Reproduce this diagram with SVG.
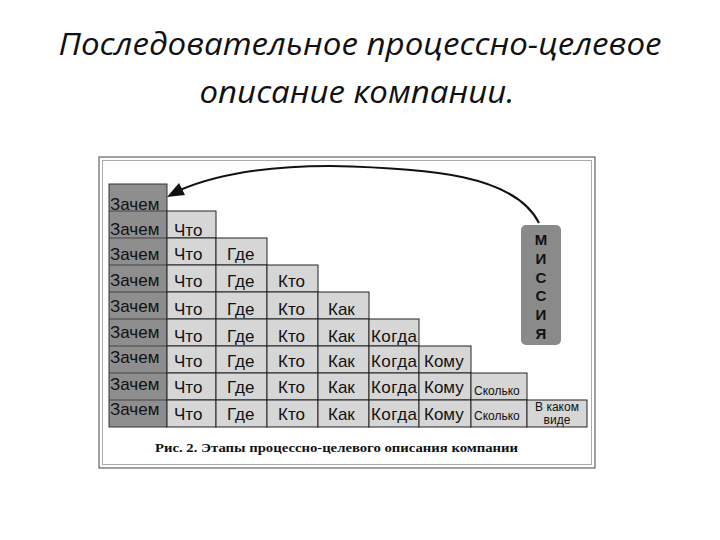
<svg xmlns="http://www.w3.org/2000/svg" width="720" height="540" viewBox="0 0 720 540">
<style>
.title{font-family:"Open Sans","Noto Sans",sans-serif;font-style:italic;font-size:31px;fill:#111}
.z{fill:#8e8e8e;stroke:#333;stroke-width:1}
.c{fill:#d6d6d6;stroke:#222;stroke-width:1}
.t{font-family:"Liberation Sans",Arial,sans-serif;font-size:17px;fill:#111}
.s{font-family:"Liberation Sans",Arial,sans-serif;font-size:12px;fill:#111}
.m{font-family:"Liberation Sans",Arial,sans-serif;font-size:15px;font-weight:bold;fill:#111;text-anchor:middle}
.cap{font-family:"Liberation Serif","Times New Roman",serif;font-size:12.5px;font-weight:bold;fill:#111}
</style>
<rect width="720" height="540" fill="#fff"/>
<text class="title" x="360" y="55" text-anchor="middle" textLength="603" lengthAdjust="spacingAndGlyphs">Последовательное процессно-целевое</text>
<text class="title" x="357" y="103" text-anchor="middle" textLength="315" lengthAdjust="spacingAndGlyphs">описание компании.</text>
<g id="frame">
<rect x="99" y="157" width="496" height="311" fill="none" stroke="#444" stroke-width="1"/>
<rect x="102.5" y="160.5" width="489" height="304" fill="none" stroke="#aaa" stroke-width="1"/>
</g>
<g id="zachem-column">
<rect class="z" x="109" y="184" width="58" height="243"/>
<path d="M109 211H167M109 238H167M109 265H167M109 292H167M109 319H167M109 346H167M109 373H167M109 400H167" stroke="#444" stroke-width="1"/>
<text class="t" x="110" y="210">Зачем</text>
<text class="t" x="110" y="235">Зачем</text>
<text class="t" x="110" y="260">Зачем</text>
<text class="t" x="110" y="286">Зачем</text>
<text class="t" x="110" y="312">Зачем</text>
<text class="t" x="110" y="338">Зачем</text>
<text class="t" x="110" y="363">Зачем</text>
<text class="t" x="110" y="390">Зачем</text>
<text class="t" x="110" y="415">Зачем</text>
</g>
<g id="chto-column">
<rect class="c" x="167" y="211" width="49" height="27"/>
<rect class="c" x="167" y="238" width="49" height="27"/>
<rect class="c" x="167" y="265" width="49" height="27"/>
<rect class="c" x="167" y="292" width="49" height="27"/>
<rect class="c" x="167" y="319" width="49" height="27"/>
<rect class="c" x="167" y="346" width="49" height="27"/>
<rect class="c" x="167" y="373" width="49" height="27"/>
<rect class="c" x="167" y="400" width="49" height="27"/>
<text class="t" x="174" y="236">Что</text>
<text class="t" x="174" y="260">Что</text>
<text class="t" x="174" y="287">Что</text>
<text class="t" x="174" y="315">Что</text>
<text class="t" x="174" y="342">Что</text>
<text class="t" x="174" y="367">Что</text>
<text class="t" x="174" y="393">Что</text>
<text class="t" x="174" y="420">Что</text>
</g>
<g id="gde-column">
<rect class="c" x="216" y="238" width="51" height="27"/>
<rect class="c" x="216" y="265" width="51" height="27"/>
<rect class="c" x="216" y="292" width="51" height="27"/>
<rect class="c" x="216" y="319" width="51" height="27"/>
<rect class="c" x="216" y="346" width="51" height="27"/>
<rect class="c" x="216" y="373" width="51" height="27"/>
<rect class="c" x="216" y="400" width="51" height="27"/>
<text class="t" x="227" y="260">Где</text>
<text class="t" x="227" y="287">Где</text>
<text class="t" x="227" y="315">Где</text>
<text class="t" x="227" y="342">Где</text>
<text class="t" x="227" y="367">Где</text>
<text class="t" x="227" y="393">Где</text>
<text class="t" x="227" y="420">Где</text>
</g>
<g id="kto-column">
<rect class="c" x="267" y="265" width="51" height="27"/>
<rect class="c" x="267" y="292" width="51" height="27"/>
<rect class="c" x="267" y="319" width="51" height="27"/>
<rect class="c" x="267" y="346" width="51" height="27"/>
<rect class="c" x="267" y="373" width="51" height="27"/>
<rect class="c" x="267" y="400" width="51" height="27"/>
<text class="t" x="278" y="287">Кто</text>
<text class="t" x="278" y="315">Кто</text>
<text class="t" x="278" y="342">Кто</text>
<text class="t" x="278" y="367">Кто</text>
<text class="t" x="278" y="393">Кто</text>
<text class="t" x="278" y="420">Кто</text>
</g>
<g id="kak-column">
<rect class="c" x="318" y="292" width="51" height="27"/>
<rect class="c" x="318" y="319" width="51" height="27"/>
<rect class="c" x="318" y="346" width="51" height="27"/>
<rect class="c" x="318" y="373" width="51" height="27"/>
<rect class="c" x="318" y="400" width="51" height="27"/>
<text class="t" x="328" y="315">Как</text>
<text class="t" x="328" y="342">Как</text>
<text class="t" x="328" y="367">Как</text>
<text class="t" x="328" y="393">Как</text>
<text class="t" x="328" y="420">Как</text>
</g>
<g id="kogda-column">
<rect class="c" x="369" y="319" width="50" height="27"/>
<rect class="c" x="369" y="346" width="50" height="27"/>
<rect class="c" x="369" y="373" width="50" height="27"/>
<rect class="c" x="369" y="400" width="50" height="27"/>
<text class="t" x="371" y="342" textLength="46">Когда</text>
<text class="t" x="371" y="367" textLength="46">Когда</text>
<text class="t" x="371" y="393" textLength="46">Когда</text>
<text class="t" x="371" y="420" textLength="46">Когда</text>
</g>
<g id="komu-column">
<rect class="c" x="419" y="346" width="52" height="27"/>
<rect class="c" x="419" y="373" width="52" height="27"/>
<rect class="c" x="419" y="400" width="52" height="27"/>
<text class="t" x="424" y="367">Кому</text>
<text class="t" x="424" y="393">Кому</text>
<text class="t" x="424" y="420">Кому</text>
</g>
<g id="skolko-column">
<rect class="c" x="471" y="373" width="56" height="27"/>
<rect class="c" x="471" y="400" width="56" height="27"/>
<text class="s" x="474" y="395">Сколько</text>
<text class="s" x="474" y="420">Сколько</text>
</g>
<g id="v-kakom-vide">
<rect class="c" x="527" y="400" width="60" height="27"/>
<text class="s" x="557" y="411" text-anchor="middle" font-size="11">В каком</text>
<text class="s" x="557" y="424" text-anchor="middle" font-size="11">виде</text>
</g>
<g id="missiya">
<rect x="521" y="225" width="40" height="120" rx="5" fill="#8a8a8a"/>
<text class="m" x="541" y="245">М</text>
<text class="m" x="541" y="264">И</text>
<text class="m" x="541" y="283">С</text>
<text class="m" x="541" y="301">С</text>
<text class="m" x="541" y="320">И</text>
<text class="m" x="541" y="339">Я</text>
</g>
<g id="connectors">
<path d="M539 223 C515 175 430 168 330 166 C265 166 215 175 180 190" fill="none" stroke="#111" stroke-width="2"/>
<polygon points="167,197 179,183 185,195" fill="#111"/>
</g>
<text class="cap" x="155" y="452" textLength="363" lengthAdjust="spacingAndGlyphs">Рис. 2. Этапы процессно-целевого описания компании</text>
</svg>
